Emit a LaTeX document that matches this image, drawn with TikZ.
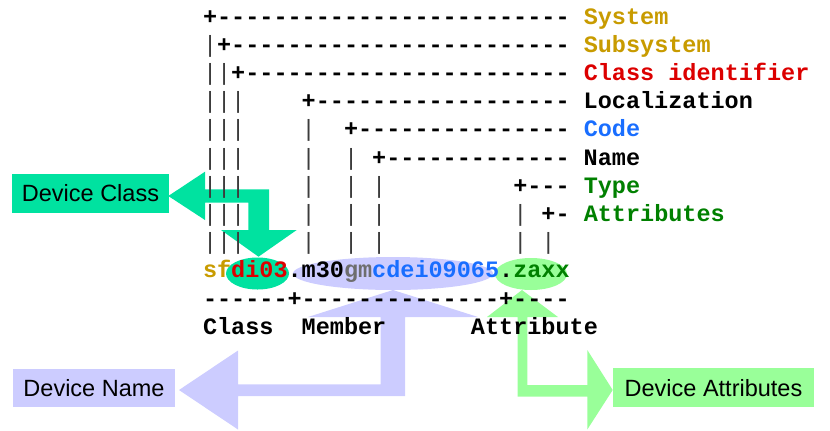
\documentclass[tikz,border=0pt]{standalone}
\usepackage{fontspec}
\setmainfont{Liberation Sans}
\newfontfamily\asc{Liberation Mono}[Ligatures=TeXOff]
\usetikzlibrary{shapes.geometric}
\definecolor{cgold}{RGB}{200,155,0}
\definecolor{cred}{RGB}{220,0,0}
\definecolor{cblue}{RGB}{25,110,255}
\definecolor{cgreen}{RGB}{0,128,0}
\definecolor{cgray}{RGB}{110,110,110}
\definecolor{cbar}{RGB}{60,60,60}
\definecolor{cteal}{RGB}{0,226,160}
\definecolor{clav}{RGB}{204,204,255}
\definecolor{clgreen}{RGB}{153,255,153}
\newcommand\vbar{{\mdseries\textcolor{cbar}{|}}}
\begin{document}
\begin{tikzpicture}[x=1bp,y=-1bp,
  ascii/.style={anchor=base west, inner sep=0pt, outer sep=0pt,
    font=\asc\bfseries\fontsize{23.5bp}{28bp}\selectfont},
  lbox/.style={inner sep=0pt, outer sep=0pt, text=black,
    font=\fontsize{23.5bp}{28bp}\selectfont}]
\useasboundingbox (0,0) rectangle (830,430);

% ---- block arrows and highlight ellipses
\fill[cteal] (168.3,196) -- (205,171.7) -- (205,189.3) -- (269,189.3) -- (269,230)
  -- (296.7,230) -- (258.5,256.7) -- (221,230) -- (248.3,230) -- (248.3,202.7)
  -- (205,202.7) -- (205,220) -- cycle;
\fill[cteal] (257.5,273.5) ellipse [x radius=31.5bp, y radius=16bp];

\fill[clav] (393,290) -- (478,317) -- (405,317) -- (405,396) -- (238,396)
  -- (238,429.5) -- (179,390) -- (238,350.5) -- (238,384.3) -- (380.5,384.3)
  -- (380.5,317) -- (308,317) -- cycle;
\fill[clav] (393,273.5) ellipse [x radius=100bp, y radius=16.5bp];

\fill[clgreen] (522,290) -- (558,317) -- (527.3,317) -- (527.3,385) -- (587.3,385)
  -- (587.3,350) -- (612.7,390) -- (587.3,429.5) -- (587.3,396.7) -- (517.7,396.7)
  -- (517.7,317) -- (487,317) -- cycle;
\fill[clgreen] (531,274) ellipse [x radius=36bp, y radius=16bp];

% ---- label boxes
\node[lbox, fill=cteal, minimum width=157bp, minimum height=39bp] (dclass) at (90.5,193.5) {Device Class};
\node[lbox, fill=clav, minimum width=162bp, minimum height=38.5bp] (dname) at (94,388.2) {Device Name};
\node[lbox, fill=clgreen, minimum width=201bp, minimum height=39bp] (dattr) at (713.5,387.8) {Device Attributes};

% ---- ASCII diagram
\node[ascii] (r0) at (203,24) {+-------------------------~\textcolor{cgold}{System}};
\node[ascii] (r1) at (203,52.2) {\vbar+------------------------~\textcolor{cgold}{Subsystem}};
\node[ascii] (r2) at (203,80.4) {\vbar\vbar+-----------------------~\textcolor{cred}{Class identifier}};
\node[ascii] (r3) at (203,108.6) {\vbar\vbar\vbar~~~~+------------------~Localization};
\node[ascii] (r4) at (203,136.8) {\vbar\vbar\vbar~~~~\vbar~~+---------------~\textcolor{cblue}{Code}};
\node[ascii] (r5) at (203,165) {\vbar\vbar\vbar~~~~\vbar~~\vbar~+-------------~Name};
\node[ascii] (r6) at (203,193.2) {\vbar\vbar\vbar~~~~\vbar~~\vbar~\vbar~~~~~~~~~+---~\textcolor{cgreen}{Type}};
\node[ascii] (r7) at (203,221.4) {\vbar\vbar\vbar~~~~\vbar~~\vbar~\vbar~~~~~~~~~\vbar~+-~\textcolor{cgreen}{Attributes}};
\node[ascii] (r8) at (203,249.6) {\vbar\vbar\vbar~~~~\vbar~~\vbar~\vbar~~~~~~~~~\vbar~\vbar};
\node[ascii] (r9) at (203,277.8) {\textcolor{cgold}{sf}\textcolor{cred}{di03}.m30\textcolor{cgray}{gm}\textcolor{cblue}{cdei09065}.\textcolor{cgreen}{zaxx}};
\node[ascii] (r10) at (203,306) {------+--------------+----};
\node[ascii] (r11) at (203,334.2) {Class~~Member~~~~~~Attribute};
\end{tikzpicture}
\end{document}
